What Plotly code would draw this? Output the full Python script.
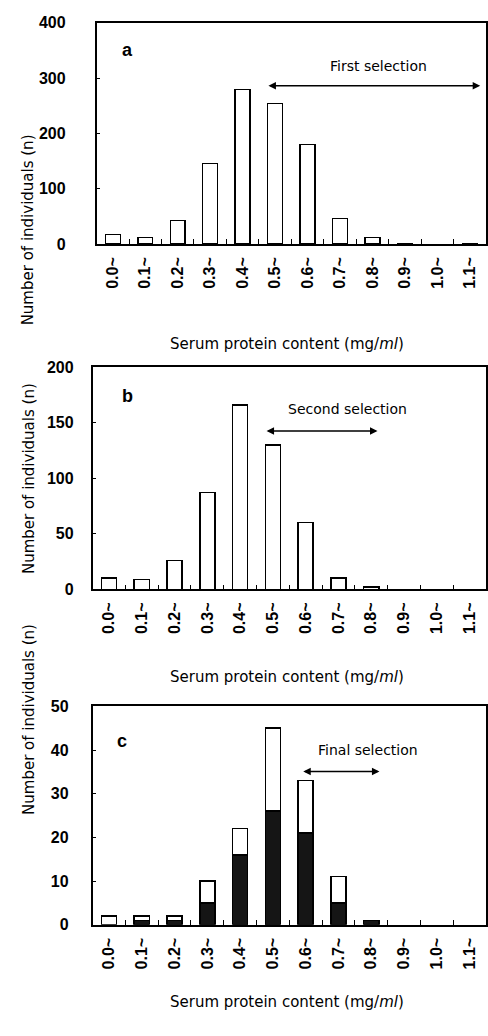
import plotly.graph_objects as go

categories = ["0.0~", "0.1~", "0.2~", "0.3~", "0.4~", "0.5~", "0.6~", "0.7~", "0.8~", "0.9~", "1.0~", "1.1~"]
counts_a = [17, 12, 43, 146, 279, 254, 180, 46, 12, 1, None, 1]
counts_b = [10, 9, 26, 87, 166, 130, 60, 10, 2, None, None, None]
counts_c_black = [None, 1, 1, 5, 16, 26, 21, 5, 1, None, None, None]
counts_c_white = [2, 1, 1, 5, 6, 19, 12, 6, None, None, None, None]
yticks_a = [0, 100, 200, 300, 400]
yticks_b = [0, 50, 100, 150, 200]
yticks_c = [0, 10, 20, 30, 40, 50]

W, H = 488, 1036
FONT = "Liberation Sans, Arial, sans-serif"
WIDE = "DejaVu Sans, sans-serif"

fig = go.Figure()
line = dict(color="black", width=1.5)
bw = 0.46
fig.add_trace(go.Bar(x=categories, y=counts_a, xaxis="x", yaxis="y", width=bw,
                     marker=dict(color="white", line=line), showlegend=False))
fig.add_trace(go.Bar(x=categories, y=counts_b, xaxis="x2", yaxis="y2", width=bw,
                     marker=dict(color="white", line=line), showlegend=False))
fig.add_trace(go.Bar(x=categories, y=counts_c_black, xaxis="x3", yaxis="y3", width=bw,
                     marker=dict(color="#151515", line=line), showlegend=False))
fig.add_trace(go.Bar(x=categories, y=counts_c_white, xaxis="x3", yaxis="y3", width=bw,
                     marker=dict(color="white", line=line), showlegend=False))

def px_x(a, b):
    return [a / W, min(b / W, 1.0)]

def px_y(top, bottom):
    return [(H - bottom) / H, (H - top) / H]

xcommon = dict(type="category", range=[-0.5, 11.5], showline=True, linecolor="black", linewidth=1.5,
               mirror=True, ticks="inside", tickson="boundaries", ticklen=5, tickcolor="black",
               tickwidth=1, tickangle=-90, ticklabelstandoff=5,
               tickfont=dict(family=FONT, size=16, color="black", weight="bold"),
               showgrid=False, zeroline=False, fixedrange=True)
ycommon = dict(showline=True, linecolor="black", linewidth=1.5, mirror=True, ticks="inside",
               ticklen=4, tickcolor="black", tickwidth=1, showgrid=False, zeroline=False,
               tickfont=dict(family=FONT, size=16, color="black", weight="bold"), fixedrange=True)

fig.update_layout(
    width=W, height=H, margin=dict(l=0, r=0, t=0, b=0),
    paper_bgcolor="white", plot_bgcolor="white", barmode="stack",
    xaxis=dict(domain=px_x(97, 490), anchor="y", **xcommon),
    yaxis=dict(domain=px_y(15, 240), anchor="x", range=[0, 400], tickvals=yticks_a,
               ticklabelstandoff=26, **ycommon),
    xaxis2=dict(domain=px_x(93, 490), anchor="y2", **xcommon),
    yaxis2=dict(domain=px_y(365, 591), anchor="x2", range=[0, 200], tickvals=yticks_b,
                ticklabelstandoff=14, **ycommon),
    xaxis3=dict(domain=px_x(93, 490), anchor="y3", **xcommon),
    yaxis3=dict(domain=px_y(710, 932), anchor="x3", range=[0, 50], tickvals=yticks_c,
                ticklabelstandoff=19, **ycommon),
)

ann = []
tfont = dict(family=WIDE, size=14, color="black")
lfont = dict(family=FONT, size=18, color="black", weight="bold")
# Panel letters
ann.append(dict(x=0.45, y=350, xref="x", yref="y", text="a", showarrow=False, font=lfont))
ann.append(dict(x=0.56, y=174, xref="x2", yref="y2", text="b", showarrow=False, font=lfont))
ann.append(dict(x=0.41, y=42, xref="x3", yref="y3", text="c", showarrow=False, font=lfont))
# Selection labels
ann.append(dict(x=8.19, y=322, xref="x", yref="y", text="First selection", showarrow=False, font=tfont))
ann.append(dict(x=7.28, y=162, xref="x2", yref="y2", text="Second selection", showarrow=False, font=tfont))
ann.append(dict(x=7.89, y=40, xref="x3", yref="y3", text="Final selection", showarrow=False, font=tfont))
# Double arrows
for (xr, yr, x0, x1, yv) in [("x", "y", 4.75, 11.32, 286), ("x2", "y2", 4.76, 8.19, 142.5), ("x3", "y3", 5.88, 8.25, 35.1)]:
    ann.append(dict(x=x1, y=yv, ax=x0, ay=yv, xref=xr, yref=yr, axref=xr, ayref=yr, text="",
                    showarrow=True, arrowhead=2, arrowside="end+start", arrowwidth=1.5,
                    arrowsize=1, arrowcolor="black", startarrowhead=2, startarrowsize=1))
# Axis titles
for yc in [330, 680, 1022]:
    ann.append(dict(x=288 / W, y=(H - yc) / H, xref="paper", yref="paper",
                    text="Serum protein content (mg/<i>ml</i>)", showarrow=False,
                    font=dict(family=WIDE, size=15, color="black")))
for yc in [126, 478, 822]:
    ann.append(dict(x=18 / W, y=(H - yc) / H, xref="paper", yref="paper", textangle=-90,
                    text="Number of individuals (n)", showarrow=False,
                    font=dict(family=WIDE, size=15, color="black")))
fig.update_layout(annotations=ann)

fig.write_html("out.html")
